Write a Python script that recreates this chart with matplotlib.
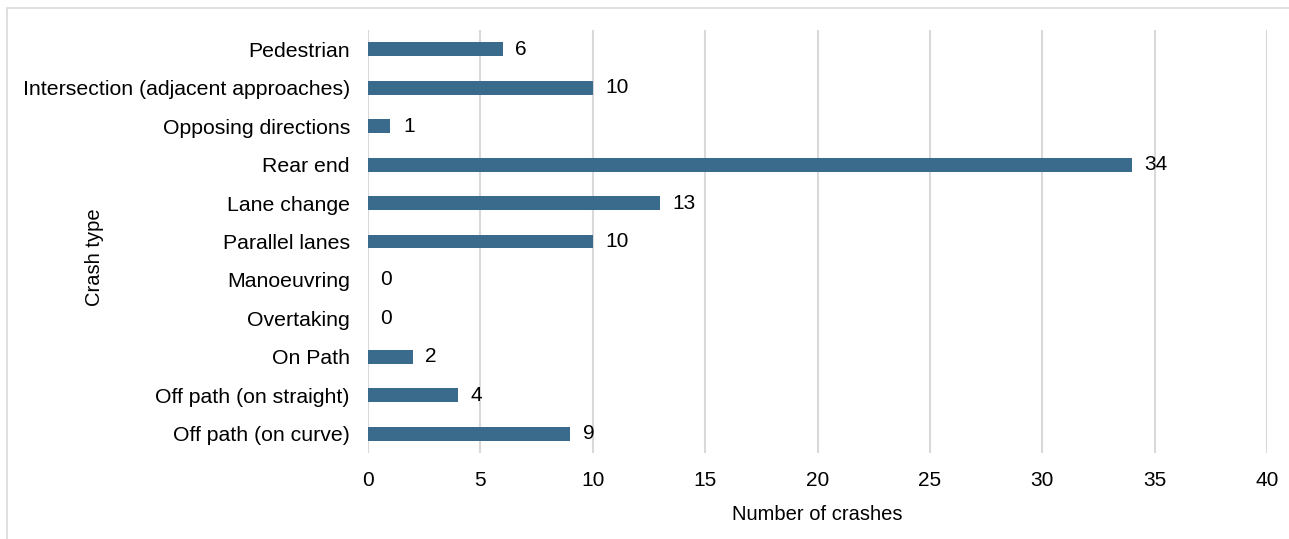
import matplotlib.pyplot as plt
from matplotlib.patches import Rectangle

plt.rcParams['font.family'] = ['Liberation Sans', 'DejaVu Sans']

# crash data (top to bottom as shown)
crash_types = ['Pedestrian', 'Intersection (adjacent approaches)', 'Opposing directions',
               'Rear end', 'Lane change', 'Parallel lanes', 'Manoeuvring', 'Overtaking',
               'On Path', 'Off path (on straight)', 'Off path (on curve)']
crashes = [6, 10, 1, 34, 13, 10, 0, 0, 2, 4, 9]
x_ticks = [0, 5, 10, 15, 20, 25, 30, 35, 40]

fig = plt.figure(figsize=(12.89, 5.39), dpi=100)
ax = fig.add_axes([368/1289, 1 - 453/539, (1267 - 368)/1289, (453 - 30)/539])

# chart border
fig.patches.append(Rectangle((7/1289, -0.05), 1.1, 1 - 8/539 + 0.05, transform=fig.transFigure,
                             fill=False, edgecolor='#D9D9D9', linewidth=1.2, zorder=0))

pos = list(range(len(crash_types)))
ax.barh(pos, crashes, height=0.36, color='#3A6A8C', zorder=3)

for p, v in zip(pos, crashes):
    ax.annotate(str(v), (v, p), xytext=(9, 0), textcoords='offset points',
                va='center', ha='left', fontsize=15)

ax.set_xlim(0, 40)
ax.set_ylim(len(crash_types) - 0.5, -0.5)
ax.set_yticks(pos)
ax.set_yticklabels(crash_types, fontsize=15.3)
ax.set_xticks(x_ticks)
ax.set_xticklabels([str(t) for t in x_ticks], fontsize=15)
ax.tick_params(length=0, pad=13)
ax.tick_params(axis='x', pad=13)
ax.xaxis.grid(True, color='#D9D9D9', linewidth=1.5, zorder=0)
ax.set_axisbelow(True)
for s in ax.spines.values():
    s.set_visible(False)

fig.text(817/1289, 1 - 515/539, 'Number of crashes', ha='center', va='center', fontsize=14.5)
fig.text(95/1289, 1 - 257/539, 'Crash type', ha='center', va='center', rotation=90, fontsize=14.5)

plt.savefig('out.png', dpi=100)
